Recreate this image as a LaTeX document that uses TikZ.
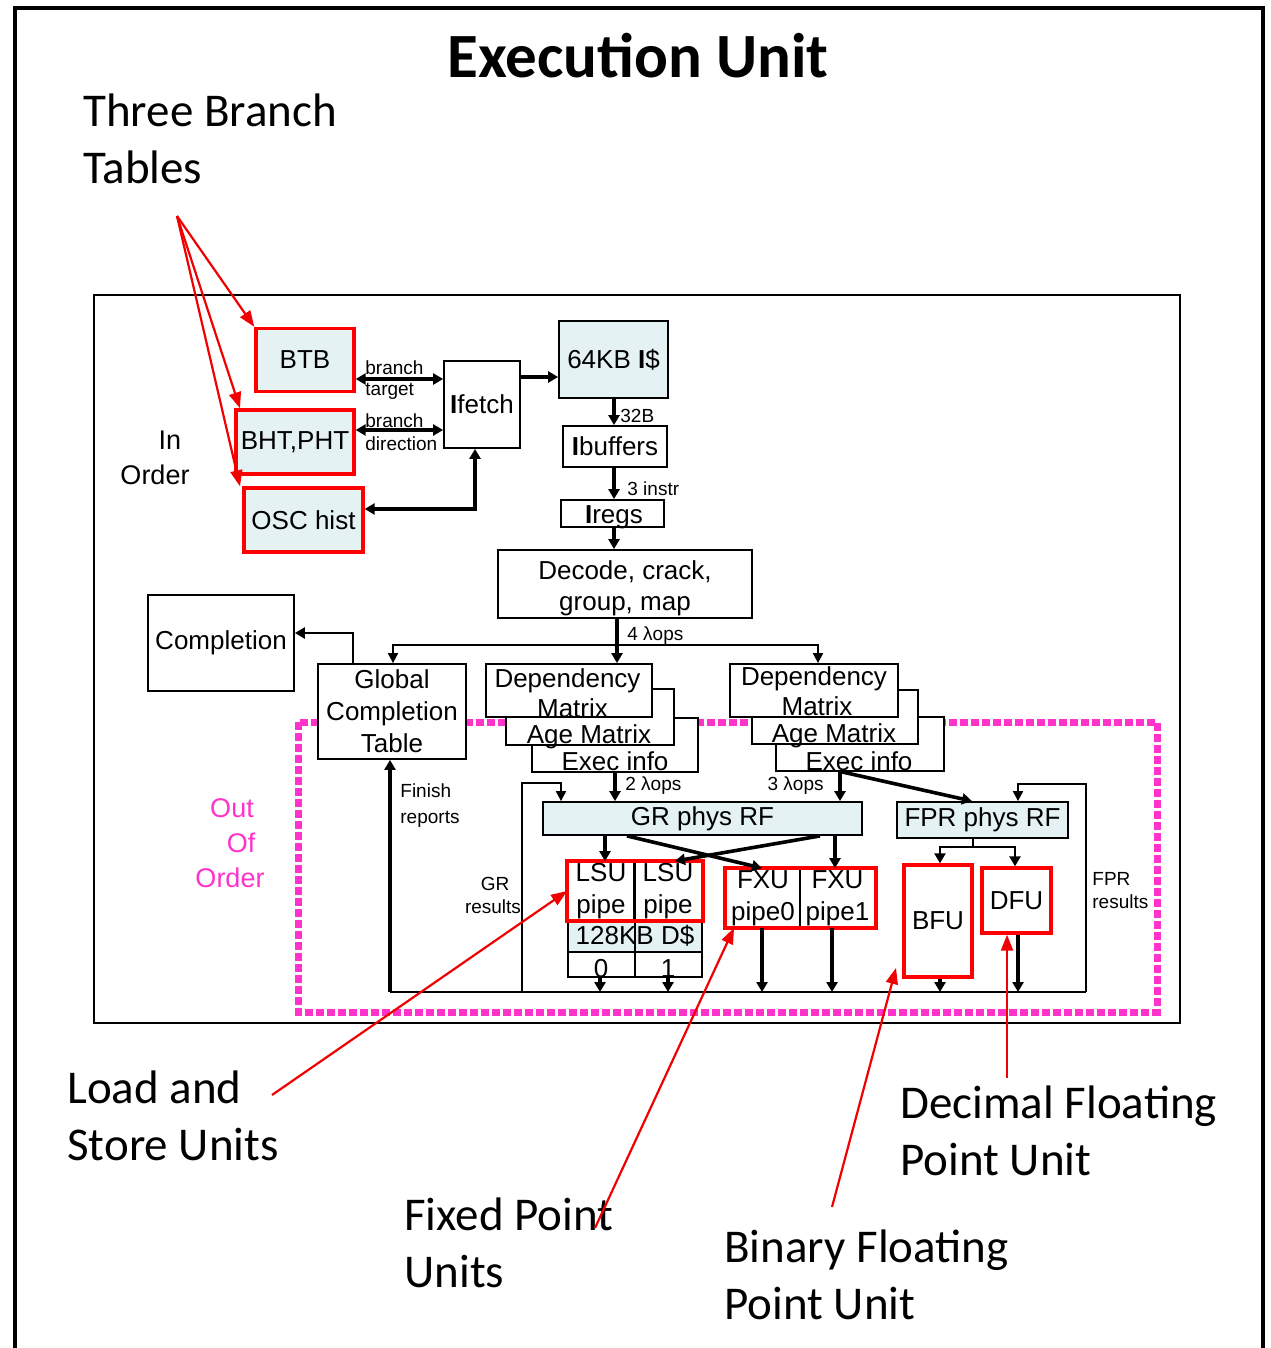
\documentclass[tikz,border=0pt]{standalone}
\usepackage{fontspec}
\setmainfont{Liberation Sans}
\newfontfamily\calfont{Carlito}
\usetikzlibrary{arrows.meta}
\definecolor{cellfill}{RGB}{228,242,244}
\definecolor{oopink}{RGB}{255,51,204}
\definecolor{annred}{RGB}{240,0,0}
\begin{document}
\begin{tikzpicture}[x=0.5pt,y=-0.5pt,
  box/.style={draw, line width=0.9pt, inner sep=0pt, fill=white, font=\fontsize{13}{16}\selectfont, align=center},
  cbox/.style={box, fill=cellfill},
  redbox/.style={draw=red, line width=1.7pt},
  txt/.style={inner sep=0pt, font=\fontsize{13}{16}\selectfont},
  small/.style={inner sep=0pt, font=\fontsize{9.5}{11}\selectfont},
  conn/.style={line width=1.8pt, -{Triangle[length=5pt,width=5.5pt]}},
  bconn/.style={line width=1.8pt, {Triangle[length=5pt,width=5.5pt]}-{Triangle[length=5pt,width=5.5pt]}},
  thinconn/.style={line width=1pt, -{Triangle[length=5pt,width=5pt]}},
  ann/.style={draw=annred, line width=1.1pt, -{Triangle[length=8pt,width=6pt]}},
  anntext/.style={inner sep=0pt, anchor=base west, font=\calfont\fontsize{23.5}{28}\selectfont},
  pinkdot/.style={draw=oopink, line width=3.5pt, dash pattern=on 4pt off 1.5pt},
]
\useasboundingbox (0,0) rectangle (1270,1348);
% outer frame
\draw[line width=2pt] (15,1348) -- (15,8) -- (1263,8) -- (1263,1348);
\node[inner sep=0pt, anchor=base, font=\calfont\bfseries\fontsize{31.5}{36}\selectfont] (title) at (638,78) {Execution Unit};

% inner frame and out-of-order region
\draw[line width=0.9pt] (94,295) rectangle (1180,1023);
\draw[pinkdot] (298,722) rectangle (1157,1012);

% in-order part
\node[cbox, redbox, minimum width=49pt, minimum height=31.5pt] (btb) at (305,360) {BTB};
\node[cbox, redbox, minimum width=59pt, minimum height=32pt] (bht) at (295,442) {BHT,PHT};
\node[cbox, redbox, minimum width=59.5pt, minimum height=32pt] (osc) at (303.5,520) {OSC hist};
\node[box, minimum width=38pt, minimum height=43.5pt] (ifetch) at (482,404.5) {{\bfseries I}fetch};
\node[cbox, minimum width=54.5pt, minimum height=38.5pt] (icache) at (613.5,359.5) {64KB {\bfseries I}\$};
\node[box, minimum width=52pt, minimum height=20.5pt] (ibuf) at (615,446.5) {{\bfseries I}buffers};
\node[box, minimum width=51.5pt, minimum height=13.5pt] (iregs) at (612.5,513.5) {};
\node[txt, anchor=base] (iregst) at (614,523) {{\bfseries I}regs};
\node[box, minimum width=127pt, minimum height=34pt] (decode) at (625,584) {};
\node[txt, anchor=base] (dec1) at (625,579) {Decode, crack,};
\node[txt, anchor=base] (dec2) at (625,610) {group, map};
\node[box, minimum width=73pt, minimum height=48pt] (compl) at (221,643) {Completion};
\node[box, minimum width=74pt, minimum height=47.5pt] (gct) at (392,711.5) {Global\\Completion\\Table};

% left issue stack
\node[box, minimum width=83pt, minimum height=27pt] (exec1) at (615,745) {};
\node[box, minimum width=84pt, minimum height=28pt] (age1) at (590,717) {};
\node[box, minimum width=83pt, minimum height=26.5pt] (dm1) at (569,690.5) {};
\node[txt, anchor=base] (dm1a) at (567.5,687) {Dependency};
\node[txt, anchor=base] (dm1b) at (572.5,717) {Matrix};
\node[txt, anchor=base] (age1t) at (589,743) {Age Matrix};
\node[txt, anchor=base] (exec1t) at (615,770) {Exec info};

% right issue stack
\node[box, minimum width=84pt, minimum height=27pt] (exec2) at (860,744) {};
\node[box, minimum width=83pt, minimum height=27pt] (age2) at (835,717) {};
\node[box, minimum width=84pt, minimum height=26.5pt] (dm2) at (814,690.5) {};
\node[txt, anchor=base] (dm2a) at (814,685) {Dependency};
\node[txt, anchor=base] (dm2b) at (817,715) {Matrix};
\node[txt, anchor=base] (age2t) at (834,742) {Age Matrix};
\node[txt, anchor=base] (exec2t) at (859,770) {Exec info};

% register files
\node[cbox, minimum width=159.5pt, minimum height=16.5pt] (grrf) at (702.5,818.5) {GR phys RF};
\node[cbox, minimum width=85.5pt, minimum height=18pt] (fprrf) at (982.5,820) {FPR phys RF};

% LSU
\node[box, minimum width=33pt, minimum height=29pt] (lsu0) at (601,891) {LSU\\pipe};
\node[box, minimum width=34pt, minimum height=29pt] (lsu1) at (668,891) {LSU\\pipe};
\node[cbox, minimum width=67pt, minimum height=16pt] (dcache) at (635,936) {128KB D\$};
\node[box, minimum width=67pt, minimum height=12.5pt] (lsub) at (635,964.5) {};
\node[txt, anchor=base] (lsun0) at (601,977) {0};
\node[txt, anchor=base] (lsun1) at (668,977) {1};
\draw[line width=0.9pt] (lsu0.north east) -- (lsu0.south east |- lsub.south);
\draw[redbox] (lsu0.north west) rectangle (lsu1.south east);

% FXU
\node[box, minimum width=37pt, minimum height=29pt] (fxu0) at (763,898) {FXU\\pipe0};
\node[box, minimum width=37.5pt, minimum height=29pt] (fxu1) at (837.5,898) {FXU\\pipe1};
\draw[redbox] (fxu0.north west) rectangle (fxu1.south east);

% BFU / DFU
\node[box, redbox, minimum width=34pt, minimum height=56pt] (bfu) at (938,921) {BFU};
\node[box, redbox, minimum width=34.5pt, minimum height=32.5pt] (dfu) at (1016.5,900.5) {DFU};

% helper coordinates
\coordinate (split) at (617,645);
\coordinate (bl) at (390,992);
\coordinate (br) at (1086,992);
\coordinate (grb) at (522,992);
\coordinate (grloop) at (561,783);
\coordinate (fprloop) at (1018,784);
\coordinate (fsplit) at (973,847);

% connectors: front end
\draw[bconn] (btb.east |- 0,379) -- (ifetch.west |- 0,379);
\draw[bconn] (bht.east |- 0,430) -- (ifetch.west |- 0,430);
\draw[bconn] (osc.east |- 0,509) -| (ifetch.south -| 475,0);
\draw[conn] (ifetch.east |- 0,377) -- (icache.west |- 0,377);
\draw[conn] (icache.south -| 614,0) -- (ibuf.north -| 614,0);
\draw[conn] (ibuf.south -| 614,0) -- (iregs.north -| 614,0);
\draw[conn] (iregs.south -| 614,0) -- (decode.north -| 614,0);
\draw[conn] (decode.south -| split) -- (dm1.north -| split);
\draw[thinconn] (split) -| (gct.north -| 393,0);
\draw[thinconn] (split) -| (dm2.north -| 818,0);
\draw[conn, line width=1.4pt] (gct.north -| 353,0) |- (compl.east |- 0,633);

% connectors: back end
\draw[conn, line width=2pt] (bl) -- (gct.south -| bl);
\draw[line width=1.2pt] (bl) -- (br);
\draw[thinconn] (br) |- (fprloop) -- (fprrf.north -| fprloop);
\draw[thinconn] (grb) |- (grloop) -- (grrf.north -| grloop);
\draw[conn] (exec1.south -| 615,0) -- (grrf.north -| 615,0);
\draw[conn] (exec2.south -| 840,0) -- (grrf.north -| 840,0);
\draw[conn] (exec2.south -| 842,0) -- (fprrf.north -| 972,0);
\draw[conn] (grrf.south -| 605,0) -- (lsu0.north -| 605,0);
\draw[conn] (grrf.south -| 627,0) -- (fxu0.north -| 762,0);
\draw[conn] (grrf.south -| 820,0) -- (lsu1.north -| 675,0);
\draw[conn] (grrf.south -| 835,0) -- (fxu1.north -| 835,0);
\draw[line width=1pt] (fprrf.south -| fsplit) -- (fsplit);
\draw[conn, line width=1.4pt] (fsplit) -| (bfu.north -| 940,0);
\draw[conn, line width=1.4pt] (fsplit) -| (dfu.north -| 1015,0);
\draw[conn] (lsub.south -| 600,0) -- (bl -| 600,0);
\draw[conn] (lsub.south -| 668,0) -- (bl -| 668,0);
\draw[conn] (fxu0.south -| 762,0) -- (bl -| 762,0);
\draw[conn] (fxu1.south -| 832,0) -- (bl -| 832,0);
\draw[conn] (bfu.south -| 940,0) -- (bl -| 940,0);
\draw[conn] (dfu.south -| 1018,0) -- (bl -| 1018,0);

% small labels
\node[small, anchor=base west] (lbt1) at (365,374) {branch};
\node[small, anchor=base west] (lbt2) at (365,395) {target};
\node[small, anchor=base west] (lbd1) at (365,427) {branch};
\node[small, anchor=base west] (lbd2) at (365,450) {direction};
\node[small, anchor=base west] (l32) at (620,422) {32B};
\node[small, anchor=base west] (l3i) at (627,495) {3 instr};
\node[small, anchor=base west] (l4) at (627,640) {4 λops};
\node[small, anchor=base west] (l2) at (625,790) {2 λops};
\node[small, anchor=base east] (l3) at (824,790) {3 λops};
\node[small, anchor=base west] (fin1) at (400,797) {Finish};
\node[small, anchor=base west] (fin2) at (400,823) {reports};
\node[small, anchor=base] (gr1) at (495,890) {GR};
\node[small, anchor=base] (gr2) at (493,913) {results};
\node[small, anchor=base west] (fpr1) at (1092,885) {FPR};
\node[small, anchor=base west] (fpr2) at (1092,908) {results};

% region labels
\node[txt, anchor=base, font=\fontsize{13.5}{16}\selectfont] (in1) at (170,449) {In};
\node[txt, anchor=base, font=\fontsize{13.5}{16}\selectfont] (in2) at (155,484) {Order};
\node[txt, anchor=base, text=oopink, font=\fontsize{13.5}{16}\selectfont] (oo1) at (232,817) {Out};
\node[txt, anchor=base, text=oopink, font=\fontsize{13.5}{16}\selectfont] (oo2) at (241,852) {Of};
\node[txt, anchor=base, text=oopink, font=\fontsize{13.5}{16}\selectfont] (oo3) at (230,887) {Order};

% annotations
\node[anntext] (tb1) at (83,127) {Three Branch};
\node[anntext] (tb2) at (83,184) {Tables};
\node[anntext] (ls1) at (67,1103) {Load and};
\node[anntext] (ls2) at (67,1160) {Store Units};
\node[anntext] (fp1) at (404,1230) {Fixed Point};
\node[anntext] (fp2) at (404,1287) {Units};
\node[anntext] (bf1) at (724,1262) {Binary Floating};
\node[anntext] (bf2) at (724,1319) {Point Unit};
\node[anntext] (df1) at (900,1118) {Decimal Floating};
\node[anntext] (df2) at (900,1175) {Point Unit};

\coordinate (tbt) at (177,216);
\coordinate (lsat) at (272,1095);
\coordinate (fpt) at (595,1228);
\coordinate (bft) at (832,1207);
\coordinate (bftip) at (896,968);
\coordinate (dft) at (1007,1078);
\draw[ann] (tbt) -- (btb.north west);
\draw[ann] (tbt) -- (bht.north west -| 240,0);
\draw[ann] (tbt) -- (osc.north west -| 240,0);
\draw[ann] (lsat) -- (lsu0.west);
\draw[ann] (fpt) -- (fxu0.south west -| 734,0);
\draw[ann] (bft) -- (bftip);
\draw[ann] (dft) -- (dfu.south -| 1007,0);
\end{tikzpicture}
\end{document}
